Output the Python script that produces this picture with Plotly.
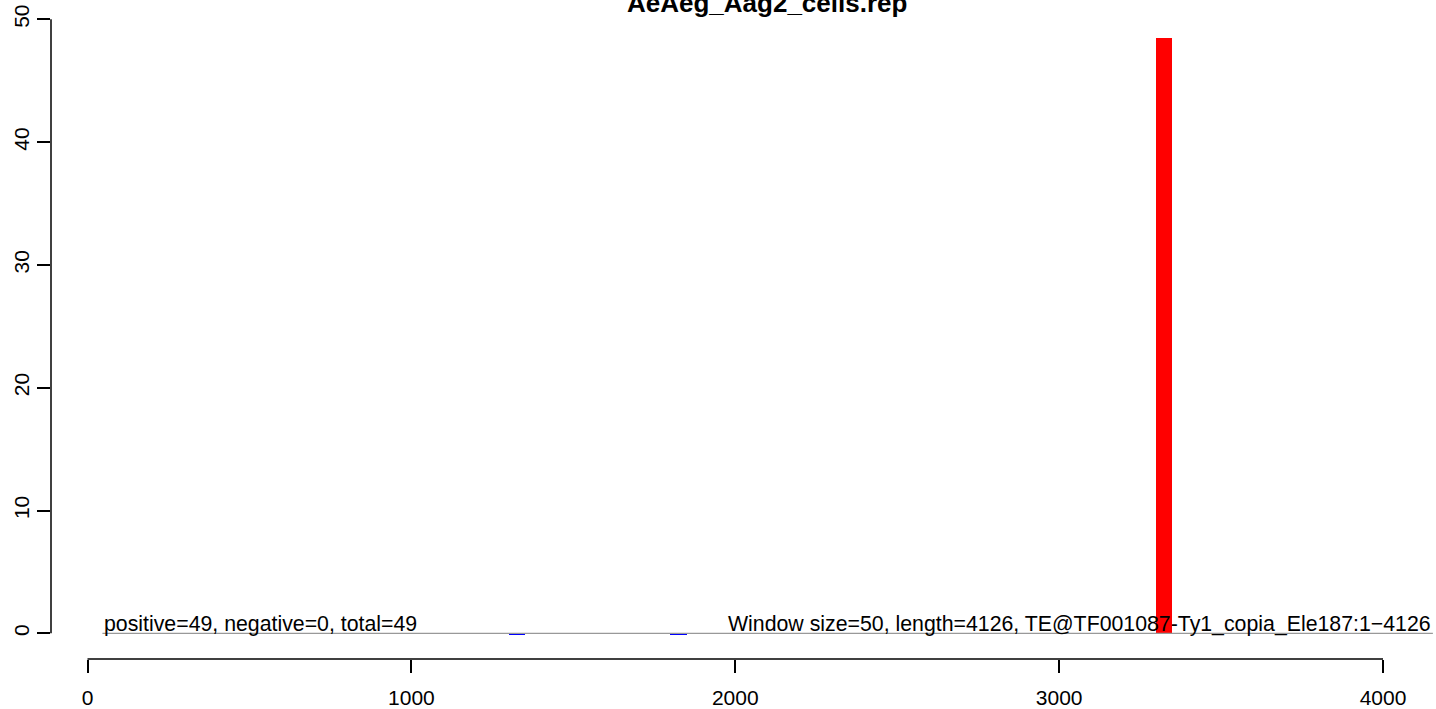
import plotly.graph_objects as go

# ---- data ----
title_text = "AeAeg_Aag2_cells.rep"
window_size = 50
pos_window_start = [3300]
pos_values = [48.5]
neg_window_start = [1300, 1800]
neg_values = [-0.1, -0.1]
baseline_x = [46, 4154]
baseline_y = [0, 0]
x_ticks = [0, 1000, 2000, 3000, 4000]
y_ticks = [0, 10, 20, 30, 40, 50]
left_label = "positive=49, negative=0, total=49"
right_label = "Window size=50, length=4126, TE@TF001087-Ty1_copia_Ele187:1\u22124126"

FONT = "Liberation Sans, Arial, Helvetica, sans-serif"

fig = go.Figure()

fig.add_trace(go.Scatter(
    x=baseline_x, y=baseline_y, mode="lines",
    line=dict(color="#999999", width=1.3), hoverinfo="skip", showlegend=False))

fig.add_trace(go.Bar(
    x=[s + window_size / 2 for s in neg_window_start], y=neg_values,
    width=window_size, marker=dict(color="#0000FF", line=dict(width=0)),
    showlegend=False))

fig.add_trace(go.Bar(
    x=[s + window_size / 2 for s in pos_window_start], y=pos_values,
    width=window_size, marker=dict(color="#FF0000", line=dict(width=0)),
    showlegend=False))

# R-style detached axis lines
fig.add_shape(type="line", xref="x", yref="paper", x0=x_ticks[0], x1=x_ticks[-1],
              y0=0, y1=0, line=dict(color="black", width=1.5))
fig.add_shape(type="line", xref="paper", yref="y", x0=0, x1=0,
              y0=y_ticks[0], y1=y_ticks[-1], line=dict(color="black", width=1.5))

fig.add_annotation(x=baseline_x[0], y=0, xref="x", yref="y", text=left_label,
                   showarrow=False, xanchor="left", yanchor="bottom", yshift=-5,
                   font=dict(family=FONT, size=21.3, color="black"))
fig.add_annotation(x=baseline_x[1], y=0, xref="x", yref="y", text=right_label,
                   showarrow=False, xanchor="right", yanchor="bottom", yshift=-5,
                   font=dict(family=FONT, size=21.3, color="black"))
fig.add_annotation(x=(767 - 51) / 1385, y=1, xref="paper", yref="paper",
                   text="<b>" + title_text + "</b>", showarrow=False,
                   xanchor="center", yanchor="bottom", yshift=-20,
                   font=dict(family=FONT, size=26, color="black"))

fig.update_layout(
    width=1436, height=709,
    margin=dict(l=51, r=0, t=0, b=50),
    paper_bgcolor="white", plot_bgcolor="white",
    bargap=0, barmode="overlay",
    font=dict(family=FONT, size=21, color="black"),
    xaxis=dict(range=[-112.7, 4163.6], tickvals=x_ticks, ticks="outside",
               ticklen=13, tickwidth=1.5, tickcolor="black", showgrid=False,
               zeroline=False, showline=False, automargin=False,
               ticklabelstandoff=7,
               tickfont=dict(family=FONT, size=21)),
    yaxis=dict(range=[-2.09, 51.57], tickvals=y_ticks, ticks="outside",
               ticklen=13, tickwidth=1.5, tickcolor="black", showgrid=False,
               zeroline=False, showline=False, tickangle=-90, automargin=False,
               tickfont=dict(family=FONT, size=21)),
)

fig.write_html("out.html", config={"displayModeBar": False},
               post_script="document.body.style.margin='0';document.body.style.overflow='hidden';")
